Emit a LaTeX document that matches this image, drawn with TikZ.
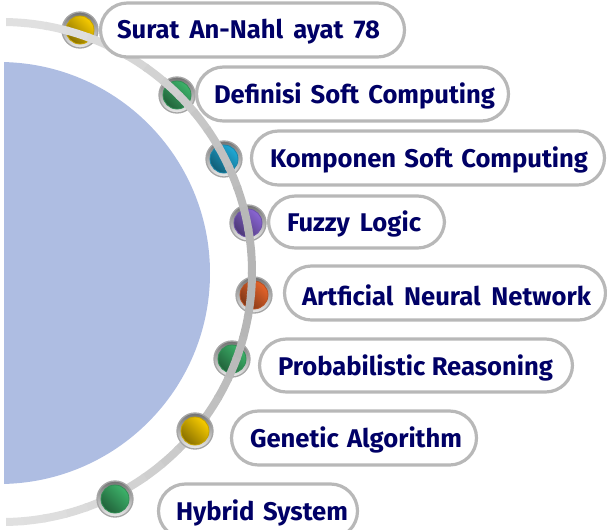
\documentclass[tikz,border=0pt]{standalone}
\usepackage{fontspec}
\setmainfont{Fira Sans}
\begin{document}
\begin{tikzpicture}[x=0.75pt, y=-0.75pt,
    inner sep=0pt, outer sep=0pt,
    topic/.style={draw=black!28, line width=2.4pt, fill=white, rounded corners=26.9*0.75pt},
    label/.style={text=navytext, font=\bfseries\fontsize{19.2}{22}\selectfont, anchor=west},
    bulbring/.style={circle, minimum size=36*0.75pt, draw=black!35, line width=1pt, top color=black!55, bottom color=black!8},
    bulb/.style={circle, minimum size=28*0.75pt, draw=#1!80!black, line width=0.6pt, left color=#1, right color=#1!55!black, shading angle=-45},
]
    % Colors
    \definecolor{navytext}{HTML}{000066}
    \definecolor{disc}{HTML}{AEBDE2}
    \definecolor{yellowbulb}{HTML}{F8CC00}
    \definecolor{greenbulb}{HTML}{3DB36A}
    \definecolor{bluebulb}{HTML}{1FA9D6}
    \definecolor{purplebulb}{HTML}{8A66D4}
    \definecolor{orangebulb}{HTML}{E6642A}

    % Frame
    \useasboundingbox (0,0) rectangle (607,529);
    \clip (0,0) rectangle (607,529);

    % Disc
    \begin{scope}
        \clip (4,0) rectangle (607,529);
        \fill[disc] (-1,273) circle (211);
    \end{scope}

    % Bulbs behind the arc
    \foreach \name/\x/\y/\col in {a/80/30/yellowbulb, b/177/95/greenbulb, c/224/159/bluebulb, d/248/223/purplebulb, e/254/295/orangebulb, f/232/359/greenbulb}{
        \node[bulbring] (ring\name) at (\x,\y) {};
        \node[bulb=\col] (bulb\name) at (\x,\y) {};
    }

    % Arc, lighter towards its ends
    \begin{scope}
        \clip (6,0) rectangle (607,529);
        \foreach \a in {-90,-85,...,85}{
            \pgfmathsetmacro{\g}{12+17*cos(\a)^2}
            \pgfmathsetmacro{\b}{\a+5.5}
            \draw[line width=6pt, black!\g] ({2+250*cos(\a)},{272+250*sin(\a)}) arc[start angle=\a, end angle=\b, radius=250];
        }
    \end{scope}

    % Bulbs in front of the arc
    \foreach \name/\x/\y/\col in {g/195/431/yellowbulb, h/115/499/greenbulb}{
        \node[bulbring] (ring\name) at (\x,\y) {};
        \node[bulb=\col] (bulb\name) at (\x,\y) {};
    }

    % Topics
    \foreach \name/\x/\y/\w/\h/\tx/\tw/\txt in {%
        a/100.5/3/304/54/117/263/{Surat An-Nahl ayat 78},
        b/196.5/67/312/54/214/281/{Definisi Soft Computing},
        c/251.5/131/353/54/270/318/{Komponen Soft Computing},
        d/268.5/196/176/52/287/134/{Fuzzy Logic},
        e/284.5/266/321/54/302/289/{Artficial Neural Network},
        f/259.5/339/313/53/278/275/{Probabilistic Reasoning},
        g/231.5/411/245/54/250/212/{Genetic Algorithm},
        h/158.5/484/199/54/176/172/{Hybrid System}}{
        \draw[topic] (\x,\y) rectangle ++(\w,\h);
        \node[label] (topic\name) at (\tx,\y+\h/2+2) {\makebox[\tw\dimexpr0.75pt\relax][s]{\txt}};
    }
\end{tikzpicture}
\end{document}
